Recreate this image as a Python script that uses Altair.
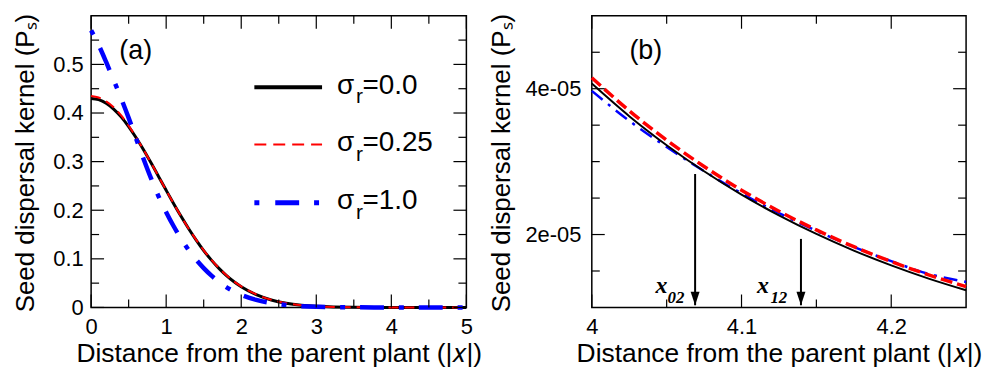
import altair as alt
import pandas as pd

# ---------------- data: panel (a) ----------------
xa = [0.0, 0.1, 0.2, 0.3, 0.4, 0.5, 0.6, 0.7, 0.8, 0.9, 1.0, 1.1, 1.2, 1.3, 1.4, 1.5,
      1.6, 1.7, 1.8, 1.9, 2.0, 2.2, 2.4, 2.6, 2.8, 3.0, 3.5, 4.0, 4.5, 5.0]
ya_s00 = [0.430, 0.4275, 0.4202, 0.4082, 0.392, 0.372, 0.349, 0.324, 0.297, 0.269, 0.241,
          0.2135, 0.187, 0.162, 0.1386, 0.117, 0.0979, 0.0809, 0.066, 0.0533, 0.0425,
          0.0262, 0.0154, 0.0086, 0.0046, 0.0024, 0.00036, 0.00004, 0.000004, 0.0]
ya_s025 = [0.435, 0.432, 0.424, 0.412, 0.395, 0.374, 0.350, 0.324, 0.297, 0.269, 0.241,
           0.2135, 0.187, 0.162, 0.139, 0.1175, 0.0985, 0.0815, 0.0666, 0.054, 0.0432,
           0.0268, 0.0158, 0.0089, 0.0048, 0.0025, 0.00038, 0.000042, 0.000004, 0.0]
ya_s10 = [0.570, 0.540, 0.505, 0.468, 0.430, 0.390, 0.347, 0.305, 0.265, 0.228, 0.196,
          0.167, 0.141, 0.118, 0.098, 0.081, 0.066, 0.053, 0.042, 0.033, 0.026,
          0.0155, 0.009, 0.005, 0.0027, 0.0014, 0.0003, 0.00004, 0.000004, 0.0]

# ---------------- data: panel (b) ----------------
xb = [4.0, 4.025, 4.05, 4.075, 4.1, 4.125, 4.15, 4.175, 4.2, 4.225, 4.25]
yb_s00 = [4.07e-5, 3.623e-5, 3.225e-5, 2.868e-5, 2.548e-5, 2.263e-5, 2.008e-5,
          1.780e-5, 1.577e-5, 1.396e-5, 1.236e-5]
yb_s025 = [4.15e-5, 3.698e-5, 3.295e-5, 2.933e-5, 2.608e-5, 2.32e-5, 2.063e-5,
           1.833e-5, 1.629e-5, 1.447e-5, 1.286e-5]
yb_s10 = [3.97e-5, 3.56e-5, 3.20e-5, 2.87e-5, 2.565e-5, 2.295e-5, 2.05e-5,
          1.83e-5, 1.635e-5, 1.46e-5, 1.35e-5]

# ticks
a_xmajor = [0, 1, 2, 3, 4, 5]
a_xminor = [0.5, 1.5, 2.5, 3.5, 4.5]
a_ymajor = [0, 0.1, 0.2, 0.3, 0.4, 0.5]
a_yminor = [0.05, 0.15, 0.25, 0.35, 0.45, 0.55]
b_xmajor = [4.0, 4.1, 4.2]
b_xminor = [4.05, 4.15]
b_ymajor = [2e-5, 4e-5]
b_yminor = [1.5e-5, 2.5e-5, 3e-5, 3.5e-5, 4.5e-5]

# legend / annotations
legend_values = ["=0.0", "=0.25", "=1.0"]
legend_line_y = [0.4529, 0.335, 0.2155]
legend_text_y = [0.4394, 0.3215, 0.202]
arrow_x = [4.069, 4.1397]
arrow_top = [2.83e-5, 1.94e-5]
arrow_bottom = [1.03e-5, 1.03e-5]
xlab_x = [4.0426, 4.1104]
xlab_y = [1.196e-5, 1.196e-5]
sub_x = [4.0506, 4.1193]
sub_y = [1.055e-5, 1.055e-5]
sub_text = ["02", "12"]

FONT = "Liberation Sans"
WA, WB, H = 377, 376, 293
MAJ, MIN = 13, 8
XTITLE = "Distance from the parent plant (|\U0001D465|)"
YTITLE = "Seed dispersal kernel (P\u209B)"


def sc(dom):
    return alt.Scale(domain=dom, nice=False, zero=False)


# ---------------- axes ----------------
ax_a = alt.Axis(values=a_xmajor, format="d", ticks=False, grid=False, domain=False,
                labelFlush=False, labelFontSize=22, labelPadding=26,
                labelBaseline="alphabetic", title=XTITLE, titleFontSize=26.5,
                titleBaseline="alphabetic", titleY=54.7)
ay_a = alt.Axis(values=a_ymajor, format=".1~f", ticks=False, grid=False, domain=False,
                labelFlush=False, labelFontSize=22, labelPadding=8, title=YTITLE,
                titleFontSize=26, titleBaseline="alphabetic", titleX=-58.3,
                titleY=H / 2 + 1)
ax_b = alt.Axis(values=b_xmajor, format=".1~f", ticks=False, grid=False, domain=False,
                labelFlush=False, labelFontSize=22, labelPadding=26,
                labelBaseline="alphabetic", title=XTITLE, titleFontSize=26.5,
                titleBaseline="alphabetic", titleY=54.7)
ay_b = alt.Axis(values=b_ymajor, labelExpr="replace(format(datum.value, '.0e'), 'e-', 'e-0')",
                ticks=False, grid=False, domain=False, labelFlush=False, labelFontSize=22,
                labelPadding=11, title=YTITLE, titleFontSize=26,
                titleBaseline="alphabetic", titleX=-82.3, titleY=H / 2 + 1)

XA, YA = [0, 5], [0, 0.6]
XB, YB = [4.0, 4.25], [1e-5, 5e-5]


def XAe(f):
    return alt.X(f, scale=sc(XA), axis=ax_a)


def YAe(f):
    return alt.Y(f, scale=sc(YA), axis=ay_a)


def XBe(f):
    return alt.X(f, scale=sc(XB), axis=ax_b)


def YBe(f):
    return alt.Y(f, scale=sc(YB), axis=ay_b)


def tick_layers(xmaj, xmin, ymaj, ymin, Xe, Ye, W):
    layers = []
    for vals, ln in ((xmaj, MAJ), (xmin, MIN)):
        base = alt.Chart(pd.DataFrame({"v": vals})).mark_rule(color="black", strokeWidth=1.2)
        layers.append(base.encode(x=Xe("v:Q"), y=alt.value(H), y2=alt.value(H - ln)))
        layers.append(base.encode(x=Xe("v:Q"), y=alt.value(0), y2=alt.value(ln)))
    for vals, ln in ((ymaj, MAJ), (ymin, MIN)):
        base = alt.Chart(pd.DataFrame({"v": vals})).mark_rule(color="black", strokeWidth=1.2)
        layers.append(base.encode(y=Ye("v:Q"), x=alt.value(0), x2=alt.value(ln)))
        layers.append(base.encode(y=Ye("v:Q"), x=alt.value(W - ln), x2=alt.value(W)))
    return layers


# ---------------- panel (a) ----------------
dfa = pd.DataFrame({"x": xa, "s00": ya_s00, "s025": ya_s025, "s10": ya_s10})

a_black = alt.Chart(dfa).mark_line(color="black", strokeWidth=3, interpolate="monotone").encode(
    x=XAe("x:Q"), y=YAe("s00:Q"))
a_red = alt.Chart(dfa).mark_line(color="#ff0000", strokeWidth=2, strokeDash=[10, 6],
                                 interpolate="monotone").encode(x=XAe("x:Q"), y=YAe("s025:Q"))
a_blue = alt.Chart(dfa).mark_line(color="#0000ff", strokeWidth=4.5, strokeDash=[5, 15, 24, 15],
                                  interpolate="monotone").encode(x=XAe("x:Q"), y=YAe("s10:Q"))

lab_a = alt.Chart(pd.DataFrame({"x": [0.376], "y": [0.511], "t": ["(a)"]})).mark_text(
    align="left", baseline="alphabetic", fontSize=27, font=FONT, color="black").encode(
    x=XAe("x:Q"), y=YAe("y:Q"), text="t:N")

leg_styles = [dict(color="black", strokeWidth=4),
              dict(color="#ff0000", strokeWidth=2, strokeDash=[12, 7]),
              dict(color="#0000ff", strokeWidth=5, strokeDash=[5, 16, 24, 15])]
leg_layers = []
for ly, st in zip(legend_line_y, leg_styles):
    leg_layers.append(
        alt.Chart(pd.DataFrame({"x": [2.175], "x2": [3.077], "y": [ly]})).mark_rule(**st).encode(
            x=XAe("x:Q"), x2="x2:Q", y=YAe("y:Q")))
dleg = pd.DataFrame({"x": [3.276] * 3, "y": legend_text_y, "s": ["σ"] * 3, "r": ["r"] * 3,
                     "v": legend_values})
leg_sigma = alt.Chart(dleg).mark_text(align="left", baseline="alphabetic", fontSize=28,
                                      font=FONT, color="black").encode(
    x=XAe("x:Q"), y=YAe("y:Q"), text="s:N")
leg_r = alt.Chart(dleg).mark_text(align="left", baseline="alphabetic", fontSize=21, dx=19, dy=9.5,
                                  font=FONT, color="black").encode(
    x=XAe("x:Q"), y=YAe("y:Q"), text="r:N")
leg_v = alt.Chart(dleg).mark_text(align="left", baseline="alphabetic", fontSize=28, dx=25.5,
                                  font=FONT, color="black").encode(
    x=XAe("x:Q"), y=YAe("y:Q"), text="v:N")

panel_a = alt.layer(
    a_black, a_red, a_blue, lab_a, *leg_layers, leg_sigma, leg_r, leg_v,
    *tick_layers(a_xmajor, a_xminor, a_ymajor, a_yminor, XAe, YAe, WA)
).properties(width=WA, height=H)

# ---------------- panel (b) ----------------
dfb = pd.DataFrame({"x": xb, "s00": yb_s00, "s025": yb_s025, "s10": yb_s10})

b_blue = alt.Chart(dfb).mark_line(color="#0000ff", strokeWidth=2.5, strokeDash=[14, 7, 3, 7],
                                  interpolate="monotone").encode(x=XBe("x:Q"), y=YBe("s10:Q"))
b_black = alt.Chart(dfb).mark_line(color="black", strokeWidth=2, interpolate="monotone").encode(
    x=XBe("x:Q"), y=YBe("s00:Q"))
b_red = alt.Chart(dfb).mark_line(color="#ff0000", strokeWidth=3.5, strokeDash=[12, 5],
                                 interpolate="monotone").encode(x=XBe("x:Q"), y=YBe("s025:Q"))

darr = pd.DataFrame({"x": arrow_x, "y": arrow_top, "y2": arrow_bottom})
arr_shaft = alt.Chart(darr).mark_rule(color="black", strokeWidth=2).encode(
    x=XBe("x:Q"), y=YBe("y:Q"), y2="y2:Q")
arr_head = alt.Chart(darr).mark_point(shape="M-1,-3L1,-3L0,0Z", filled=True, size=81,
                                      color="black", opacity=1, strokeWidth=0).encode(
    x=XBe("x:Q"), y=YBe("y2:Q"))

dlab = pd.DataFrame({"x": xlab_x, "y": xlab_y, "t": ["x", "x"],
                     "sx": sub_x, "sy": sub_y, "st": sub_text})
lab_x = alt.Chart(dlab).mark_text(align="left", baseline="alphabetic", fontSize=24,
                                  font="Liberation Serif", fontStyle="italic", fontWeight="bold",
                                  color="black").encode(x=XBe("x:Q"), y=YBe("y:Q"), text="t:N")
lab_sub = alt.Chart(dlab).mark_text(align="left", baseline="alphabetic", fontSize=17,
                                    font="Liberation Serif", fontStyle="italic", fontWeight="bold",
                                    color="black").encode(x=XBe("sx:Q"), y=YBe("sy:Q"), text="st:N")

lab_b = alt.Chart(pd.DataFrame({"x": [4.0251], "y": [4.41e-5], "t": ["(b)"]})).mark_text(
    align="left", baseline="alphabetic", fontSize=27, font=FONT, color="black").encode(
    x=XBe("x:Q"), y=YBe("y:Q"), text="t:N")

panel_b = alt.layer(
    b_blue, b_black, b_red, arr_shaft, arr_head, lab_x, lab_sub, lab_b,
    *tick_layers(b_xmajor, b_xminor, b_ymajor, b_yminor, XBe, YBe, WB)
).properties(width=WB, height=H)

chart = alt.hconcat(panel_a, panel_b, spacing=126, bounds="flush").properties(
    padding={"left": 2.5, "top": 3, "right": 0, "bottom": 0}
).configure_view(stroke="black", strokeWidth=1.5).configure_axis(
    labelFont=FONT, titleFont=FONT, labelColor="black", titleColor="black",
    titleFontWeight="normal")

chart.save("out.html", embed_options={"renderer": "svg", "actions": False})
